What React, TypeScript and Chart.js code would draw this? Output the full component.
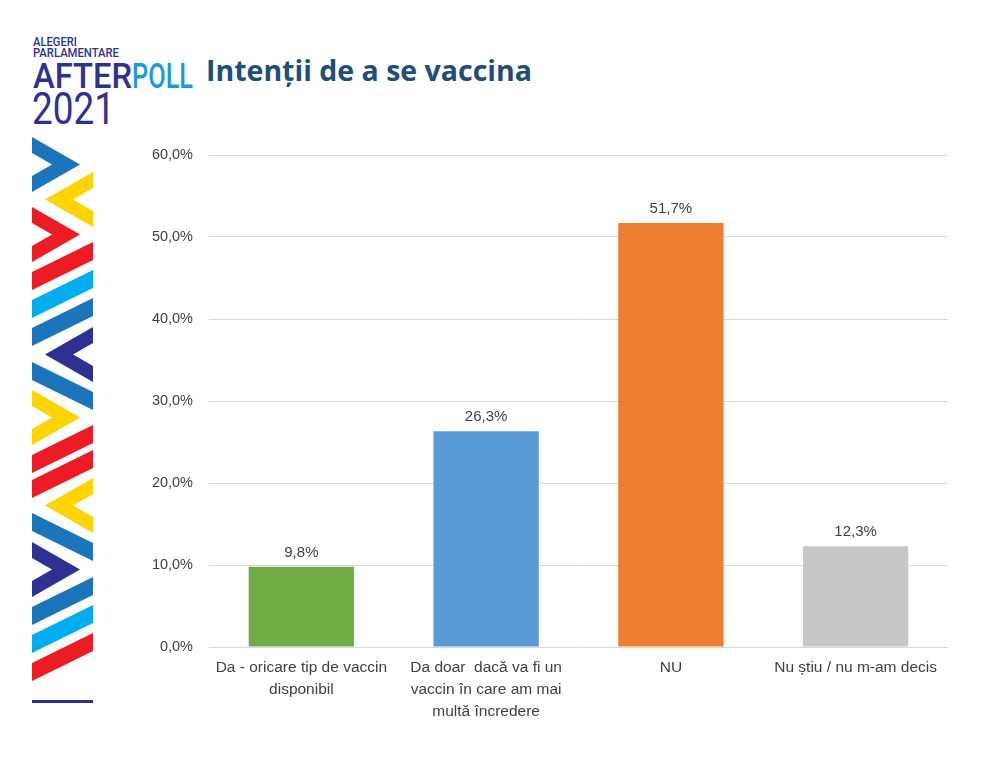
import { useEffect, useRef } from 'react';
import Chart from 'chart.js/auto';

// chart data
const categories: string[][] = [
    ['Da - oricare tip de vaccin', 'disponibil'],
    ['Da doar  dacă va fi un', 'vaccin în care am mai', 'multă încredere'],
    ['NU'],
    ['Nu știu / nu m-am decis'],
];
const values: number[] = [9.8, 26.3, 51.7, 12.3];
const barColors: string[] = ['#70ad47', '#5b9bd5', '#ed7d31', '#c8c8c8'];
const yTicks: number[] = [0, 10, 20, 30, 40, 50, 60];

const fmt = (v: number): string => v.toFixed(1).replace('.', ',') + '%';

// decorative stripe of the logo
const SL = 32;
const SR = 93;
type Shape = { kind: '>' | '<' | '/' | '\\'; top: number; color: string };
const BLUE = '#1b75bb';
const YELLOW = '#ffd400';
const RED = '#ed1c24';
const SKY = '#00aeef';
const NAVY = '#2e3192';
const stripe: Shape[] = [
    { kind: '>', top: 137, color: BLUE },
    { kind: '<', top: 172, color: YELLOW },
    { kind: '>', top: 207, color: RED },
    { kind: '/', top: 242, color: RED },
    { kind: '/', top: 270, color: SKY },
    { kind: '/', top: 298, color: BLUE },
    { kind: '<', top: 327, color: NAVY },
    { kind: '\\', top: 362, color: BLUE },
    { kind: '>', top: 390, color: YELLOW },
    { kind: '/', top: 425, color: RED },
    { kind: '/', top: 450, color: RED },
    { kind: '<', top: 478, color: YELLOW },
    { kind: '\\', top: 513, color: BLUE },
    { kind: '>', top: 542, color: NAVY },
    { kind: '/', top: 577, color: BLUE },
    { kind: '/', top: 605, color: SKY },
    { kind: '/', top: 633, color: RED },
];

function shapePoints(s: Shape): string {
    const t = s.top;
    let pts: number[][] = [];
    if (s.kind === '/') {
        pts = [[SR, t], [SR, t + 18], [SL, t + 48], [SL, t + 30]];
    } else if (s.kind === '\\') {
        pts = [[SL, t], [SR, t + 30], [SR, t + 48], [SL, t + 18]];
    } else if (s.kind === '>') {
        pts = [[SL, t], [80, t + 27.5], [SL, t + 55], [SL, t + 39], [52, t + 27.5], [SL, t + 16]];
    } else {
        pts = [[SR, t], [45, t + 27.5], [SR, t + 55], [SR, t + 39], [73, t + 27.5], [SR, t + 16]];
    }
    return pts.map(p => p.join(',')).join(' ');
}

// draws the value above each bar
const valueLabels = {
    id: 'valueLabels',
    afterDatasetsDraw(chart: Chart) {
        const ctx = chart.ctx;
        const meta = chart.getDatasetMeta(0);
        ctx.save();
        ctx.font = '15px "Liberation Sans", Arial, sans-serif';
        ctx.fillStyle = '#404040';
        ctx.textAlign = 'center';
        ctx.textBaseline = 'alphabetic';
        meta.data.forEach((bar: any, i: number) => {
            ctx.fillText(fmt(values[i]), bar.x, bar.y - 10);
        });
        ctx.restore();
    },
};

export default function App() {
    const canvasRef = useRef<HTMLCanvasElement | null>(null);

    useEffect(() => {
        if (!canvasRef.current) return;
        const chart = new Chart(canvasRef.current, {
            type: 'bar',
            data: {
                labels: categories,
                datasets: [
                    {
                        data: values,
                        backgroundColor: barColors,
                        borderWidth: 0,
                        barPercentage: 0.57,
                        categoryPercentage: 1,
                    },
                ],
            },
            options: {
                responsive: true,
                maintainAspectRatio: false,
                animation: false,
                layout: { padding: { top: 25, right: 22, left: 0, bottom: 0 } },
                plugins: {
                    legend: { display: false },
                    tooltip: { enabled: false },
                },
                scales: {
                    y: {
                        min: 0,
                        max: 60,
                        afterBuildTicks: (scale: any) => {
                            scale.ticks = yTicks.map(v => ({ value: v }));
                        },
                        afterFit: (scale: any) => {
                            scale.width = 109;
                        },
                        grid: { color: '#d9d9d9', lineWidth: 1, drawTicks: false },
                        border: { display: false },
                        ticks: {
                            padding: 16,
                            color: '#404040',
                            font: { family: '"Liberation Sans", Arial, sans-serif', size: 14.5 },
                            callback: (v: any) => fmt(Number(v)),
                        },
                    },
                    x: {
                        afterFit: (scale: any) => {
                            scale.height = 103;
                        },
                        grid: { display: false, drawTicks: false },
                        border: { display: false },
                        ticks: {
                            padding: 10,
                            color: '#404040',
                            maxRotation: 0,
                            autoSkip: false,
                            font: { family: '"Liberation Sans", Arial, sans-serif', size: 15.5, lineHeight: 1.4 },
                        },
                    },
                },
            },
            plugins: [valueLabels],
        });
        return () => chart.destroy();
    }, []);

    return (
        <div style={{ position: 'absolute', left: 0, top: 0, width: 1000, height: 760, background: '#fff', overflow: 'hidden' }}>
            <svg width={1000} height={760} style={{ position: 'absolute', left: 0, top: 0 }}>
                <g fontFamily="Roboto, 'Liberation Sans', sans-serif" fill={NAVY}>
                    <text x={33} y={46} fontSize={12} fontWeight={500} textLength={44} lengthAdjust="spacingAndGlyphs">ALEGERI</text>
                    <text x={33} y={57} fontSize={12} fontWeight={500} textLength={86} lengthAdjust="spacingAndGlyphs">PARLAMENTARE</text>
                    <text x={33} y={88} fontSize={35} fontWeight={500} textLength={99} lengthAdjust="spacingAndGlyphs">AFTER</text>
                    <text x={132} y={88} fontSize={35} fontWeight={500} textLength={61} lengthAdjust="spacingAndGlyphs" fill="#1c9ad6">POLL</text>
                    <text x={32} y={124} fontSize={44} fontWeight={400} textLength={83} lengthAdjust="spacingAndGlyphs">2021</text>
                </g>
                {stripe.map((s, i) => (
                    <polygon key={i} points={shapePoints(s)} fill={s.color} />
                ))}
                <rect x={SL} y={700} width={SR - SL} height={3} fill={NAVY} />
            </svg>
            <div style={{ position: 'absolute', left: 206, top: 52, fontFamily: '"Open Sans", sans-serif', fontWeight: 700, fontSize: 28.5, color: '#1f4e79', whiteSpace: 'nowrap', lineHeight: '36px' }}>
                Intenții de a se vaccina
            </div>
            <div style={{ position: 'absolute', left: 100, top: 130, width: 870, height: 620 }}>
                <canvas ref={canvasRef} />
            </div>
        </div>
    );
}
